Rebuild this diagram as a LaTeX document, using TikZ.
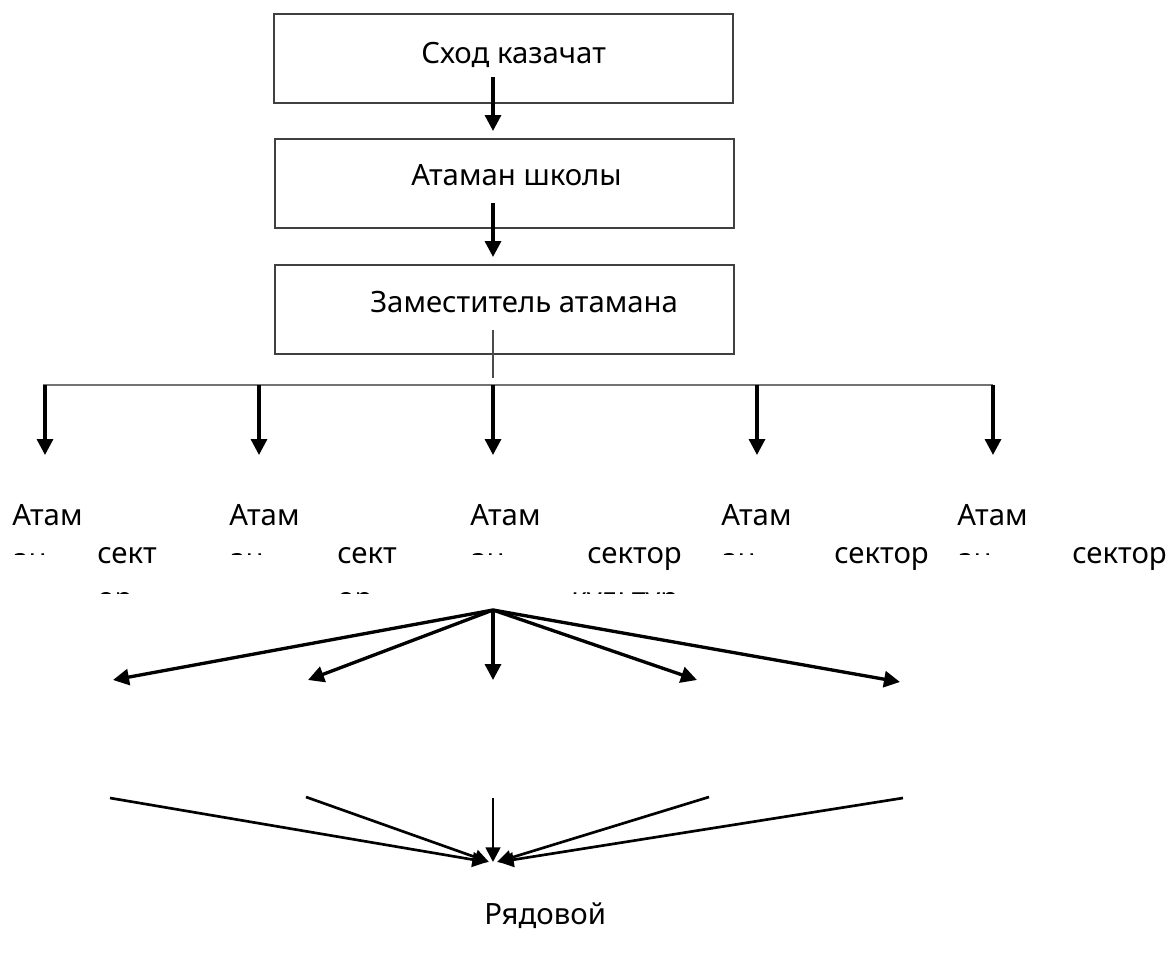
\documentclass[tikz,border=0pt]{standalone}
\usepackage{fontspec}
\setmainfont{Noto Sans}
\usetikzlibrary{
	arrows.meta,
	calc,
}
\tikzset{
	box/.style={
		draw=black!75,
		line width=1.1pt,
		minimum width=344pt,
		minimum height=67pt,
		inner sep=0pt,
	},
	txt/.style={
		inner sep=0pt,
		anchor=base west,
		font=\fontsize{22}{26}\selectfont,
	},
	arr/.style={line width=2.5pt, -{Triangle[length=12pt,width=12pt]}},
	thinarr/.style={line width=2pt, -{Triangle[length=11pt,width=11pt]}},
}

\begin{document}
\begin{tikzpicture}[x=0.75pt, y=-0.75pt]
\useasboundingbox (0,0) rectangle (1171,957);

\node[box] (skhod) at (503.5,58.5) {};
\node[box] (ataman) at (504.5,183.5) {};
\node[box] (zam) at (504.5,309.5) {};
\node[txt] (skhodt) at (421,63) {Сход казачат};
\node[txt] (atamant) at (411,185) {Атаман школы};
\node[txt] (zamt) at (370,312) {Заместитель атамана};

\coordinate (s1) at (493,77);
\coordinate (e1) at (493,131);
\coordinate (s2) at (493,203);
\coordinate (e2) at (493,257);
\draw[arr] (s1) -- (e1);
\draw[arr] (s2) -- (e2);

\coordinate (z) at (493,330);
\coordinate (zb) at (493,378);
\draw[black!70, line width=0.8pt] (z) -- (zb);

\coordinate (hl) at (43,385);
\coordinate (hr) at (993,385);
\draw[black!55, line width=1.5pt] (hl) -- (hr);

\foreach[count=\i] \x in {45,259,493,757,993}{
	\coordinate (h\i) at (\x,385);
	\coordinate (d\i) at (\x,455);
	\draw[arr] (h\i) -- (d\i);
}

\foreach[count=\i] \x/\s/\t in {
	12/97/сект, 229/337/сект, 470/587/сектор, 721/834/сектор, 957/1072/сектор%
}{
	\node[txt] (at\i) at (\x,525) {Атам};
	\node[txt] (sec\i) at (\s,563) {\t};
}

% text cut off by the frames
\begin{scope}
\clip (0,540) rectangle (1171,554);
\foreach[count=\i] \x in {12,229,470,721,957}{
	\node[txt] (an\i) at (\x,569) {ан};
}
\end{scope}
\begin{scope}
\clip (0,580) rectangle (1171,593.5);
\foreach[count=\i] \x/\t in {97/ор, 337/ор, 571/культур}{
	\node[txt] (or\i) at (\x,608) {\t};
}
\end{scope}

\coordinate (f) at (493,610);
\foreach[count=\i] \x/\y in {113/680, 308/680, 493/680, 697/680, 900/682}{
	\coordinate (t\i) at (\x,\y);
	\draw[arr] (f) -- (t\i);
}

\foreach[count=\i] \x/\y/\e in {
	110/798/487, 306/797/489, 493/798/493, 709/797/497, 903/798/499%
}{
	\coordinate (b\i) at (\x,\y);
	\coordinate (q\i) at (\e,862);
	\draw[thinarr] (b\i) -- (q\i);
}

\node[txt] (ryad) at (484,924) {Рядовой};
\end{tikzpicture}
\end{document}
